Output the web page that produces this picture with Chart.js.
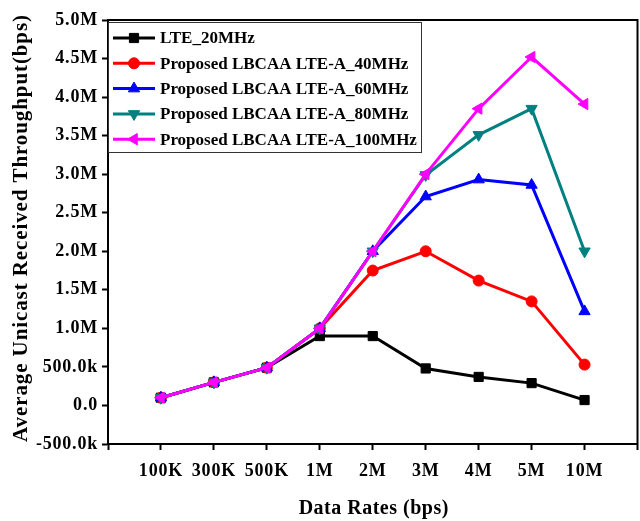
<!DOCTYPE html>
<html>
<head>
<meta charset="utf-8">
<script src="https://cdn.jsdelivr.net/npm/chart.js@4/dist/chart.umd.min.js"></script>
<style>
  html, body { margin: 0; padding: 0; background: #fff; }
  #wrap { width: 640px; height: 521px; overflow: hidden; }
</style>
</head>
<body>
<div id="wrap"><canvas id="throughputChart" width="645" height="521"></canvas></div>
<script>
const categories = ["100K", "300K", "500K", "1M", "2M", "3M", "4M", "5M", "10M"];

const lte20 = [100000, 300000, 490000, 900000, 900000, 480000, 370000, 290000, 70000];
const lbcaa40 = [100000, 300000, 490000, 1000000, 1750000, 2000000, 1620000, 1350000, 530000];
const lbcaa60 = [100000, 300000, 490000, 1000000, 2000000, 2710000, 2930000, 2860000, 1220000];
const lbcaa80 = [100000, 300000, 490000, 1000000, 2000000, 2990000, 3510000, 3850000, 2000000];
const lbcaa100 = [100000, 300000, 490000, 1000000, 2000000, 3000000, 3850000, 4520000, 3910000];

const yTicks = [-500000, 0, 500000, 1000000, 1500000, 2000000, 2500000, 3000000, 3500000, 4000000, 4500000, 5000000];

const serif = "'Liberation Serif', 'Times New Roman', serif";

function toPoints(values){
  return values.map(function(v, i){ return { x: i, y: v }; });
}

function series(label, values, color, style, rotation, order){
  return {
    label: label,
    data: toPoints(values),
    borderColor: color,
    backgroundColor: color,
    pointBackgroundColor: color,
    pointBorderColor: color,
    pointStyle: style,
    rotation: rotation,
    pointRadius: style === "circle" ? 5.5 : 6.5,
    pointBorderWidth: 1,
    borderWidth: 3,
    tension: 0,
    order: order
  };
}

function formatY(v){
  if(v === 0) return "0.0";
  if(Math.abs(v) >= 1000000) return (v / 1000000).toFixed(1) + "M";
  return (v / 1000).toFixed(1) + "k";
}

// legend box, frame and axis titles
const decorPlugin = {
  id: "decor",
  beforeDraw: function(chart){
    chart.ctx.letterSpacing = "0.8px";
  },
  afterDraw: function(chart){
    const ctx = chart.ctx;
    const area = chart.chartArea;
    ctx.save();

    // frame round the plot
    ctx.strokeStyle = "#000";
    ctx.lineWidth = 2;
    ctx.strokeRect(area.left, area.top, area.right - area.left, area.bottom - area.top);

    // legend
    const lx = area.left, ly = area.top + 2, lw = 314, lh = 131;
    ctx.fillStyle = "#fff";
    ctx.fillRect(lx, ly, lw, lh);
    ctx.lineWidth = 1;
    ctx.strokeStyle = "#333";
    ctx.strokeRect(lx + 0.5, ly + 0.5, lw - 1, lh - 1);

    const items = chart.data.datasets;
    items.forEach(function(ds, i){
      const y = ly + 16 + i * 25.3;
      ctx.strokeStyle = ds.borderColor;
      ctx.lineWidth = 3;
      ctx.beginPath();
      ctx.moveTo(lx + 5, y);
      ctx.lineTo(lx + 47, y);
      ctx.stroke();
      ctx.fillStyle = ds.backgroundColor;
      ctx.strokeStyle = ds.borderColor;
      ctx.lineWidth = 1;
      Chart.helpers.drawPoint(ctx, {
        pointStyle: ds.pointStyle,
        rotation: ds.rotation,
        radius: ds.pointRadius,
        borderWidth: 1
      }, lx + 26, y);
      ctx.fillStyle = "#000";
      ctx.letterSpacing = "0px";
      ctx.font = "bold 17px " + serif;
      ctx.textAlign = "left";
      ctx.textBaseline = "middle";
      ctx.fillText(ds.label, lx + 52, y + 1);
    });

    // axis titles
    ctx.fillStyle = "#000";
    ctx.letterSpacing = "0.5px";
    ctx.font = "bold 20px " + serif;
    ctx.textAlign = "center";
    ctx.textBaseline = "middle";
    ctx.fillText("Data Rates (bps)", (area.left + area.right) / 2 + 1, 509);

    ctx.save();
    ctx.translate(22, 228);
    ctx.rotate(-Math.PI / 2);
    ctx.letterSpacing = "0.9px";
    ctx.font = "bold 21px " + serif;
    ctx.fillText("Average Unicast Received Throughput(bps)", 0, 0);
    ctx.restore();

    ctx.restore();
    ctx.letterSpacing = "0px";
  }
};

new Chart(document.getElementById("throughputChart"), {
  type: "line",
  data: {
    datasets: [
      series("LTE_20MHz", lte20, "#000000", "rect", 0, 4),
      series("Proposed LBCAA LTE-A_40MHz", lbcaa40, "#ff0000", "circle", 0, 3),
      series("Proposed LBCAA LTE-A_60MHz", lbcaa60, "#0000ff", "triangle", 0, 2),
      series("Proposed LBCAA LTE-A_80MHz", lbcaa80, "#008080", "triangle", 180, 1),
      series("Proposed LBCAA LTE-A_100MHz", lbcaa100, "#ff00ff", "triangle", -90, 0)
    ]
  },
  options: {
    responsive: false,
    animation: false,
    layout: { padding: { top: 20, right: -2, left: 0, bottom: 0 } },
    scales: {
      x: {
        type: "linear",
        min: -1,
        max: categories.length,
        afterFit: function(scale){
          scale.height = 77;
          scale.paddingLeft = 0;
          scale.paddingRight = 0;
        },
        afterBuildTicks: function(scale){
          const t = [];
          for(let i = -1; i <= categories.length; i++) t.push({ value: i });
          scale.ticks = t;
        },
        ticks: {
          autoSkip: false,
          maxRotation: 0,
          padding: 11,
          color: "#000",
          font: { family: serif, size: 18, weight: "bold" },
          callback: function(v){ return categories[v] || ""; }
        },
        grid: {
          drawOnChartArea: false,
          drawTicks: true,
          tickLength: 6,
          tickWidth: 2,
          tickColor: "#000"
        },
        border: { display: true, color: "#000", width: 2 }
      },
      y: {
        min: yTicks[0],
        max: yTicks[yTicks.length - 1],
        afterFit: function(scale){
          scale.width = 108;
          scale.paddingTop = 0;
          scale.paddingBottom = 0;
        },
        afterBuildTicks: function(scale){
          scale.ticks = yTicks.map(function(v){ return { value: v }; });
        },
        ticks: {
          padding: 4,
          color: "#000",
          font: { family: serif, size: 18, weight: "bold" },
          callback: function(v){ return formatY(v); }
        },
        grid: {
          drawOnChartArea: false,
          drawTicks: true,
          tickLength: 6,
          tickWidth: 2,
          tickColor: "#000"
        },
        border: { display: true, color: "#000", width: 2 }
      }
    },
    plugins: {
      legend: { display: false },
      tooltip: { enabled: false }
    }
  },
  plugins: [decorPlugin]
});
</script>
</body>
</html>
